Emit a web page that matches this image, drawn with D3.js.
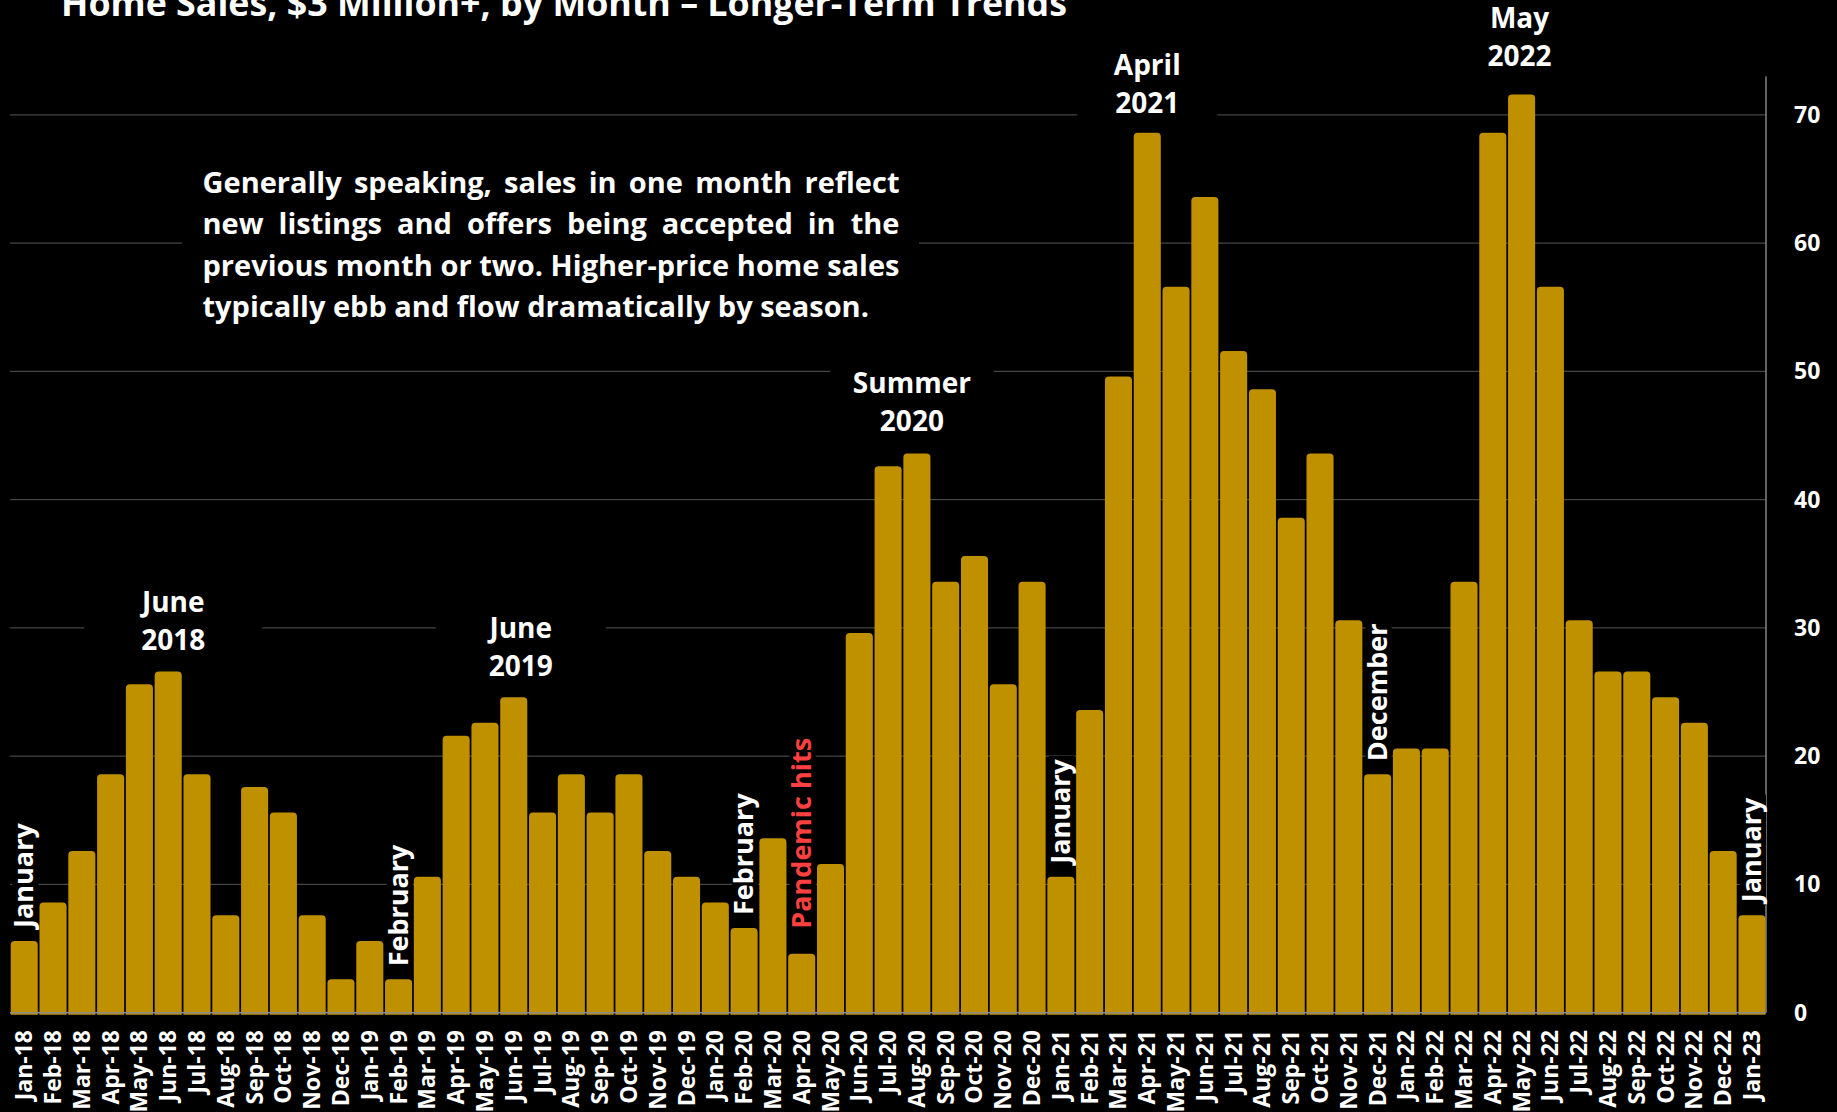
<!DOCTYPE html>
<meta charset="utf-8">
<head>
	<title>Home Sales, $3 Million+, by Month</title>
</head>

<style>
body {
	margin: 0;
	background: #000;
}
svg {
	background-color: #000;
	display: block;
}
text {
	font-family: "Open Sans", sans-serif;
	font-weight: 700;
	fill: #fff;
}
</style>

<body>
<svg class="chart" width="1837" height="1112"></svg>

<script src="https://cdnjs.cloudflare.com/ajax/libs/d3/7.8.5/d3.min.js"></script>
<script>

// data
var months = [
	'Jan-18','Feb-18','Mar-18','Apr-18','May-18','Jun-18','Jul-18','Aug-18','Sep-18','Oct-18','Nov-18','Dec-18',
	'Jan-19','Feb-19','Mar-19','Apr-19','May-19','Jun-19','Jul-19','Aug-19','Sep-19','Oct-19','Nov-19','Dec-19',
	'Jan-20','Feb-20','Mar-20','Apr-20','May-20','Jun-20','Jul-20','Aug-20','Sep-20','Oct-20','Nov-20','Dec-20',
	'Jan-21','Feb-21','Mar-21','Apr-21','May-21','Jun-21','Jul-21','Aug-21','Sep-21','Oct-21','Nov-21','Dec-21',
	'Jan-22','Feb-22','Mar-22','Apr-22','May-22','Jun-22','Jul-22','Aug-22','Sep-22','Oct-22','Nov-22','Dec-22',
	'Jan-23'
];

var sales = [
	5.6, 8.6, 12.6, 18.6, 25.6, 26.6, 18.6, 7.6, 17.6, 15.6, 7.6, 2.6,
	5.6, 2.6, 10.6, 21.6, 22.6, 24.6, 15.6, 18.6, 15.6, 18.6, 12.6, 10.6,
	8.6, 6.6, 13.6, 4.6, 11.6, 29.6, 42.6, 43.6, 33.6, 35.6, 25.6, 33.6,
	10.6, 23.6, 49.6, 68.6, 56.6, 63.6, 51.6, 48.6, 38.6, 43.6, 30.6, 18.6,
	20.6, 20.6, 33.6, 68.6, 71.6, 56.6, 30.6, 26.6, 26.6, 24.6, 22.6, 12.6,
	7.6
];

var yTicks = [0, 10, 20, 30, 40, 50, 60, 70];

var titleText = 'Home Sales, $3 Million+, by Month \u2013 Longer-Term Trends';

// two-line notes above peaks
var peakNotes = [
	{month: 'Jun-18', lines: ['June', '2018']},
	{month: 'Jun-19', lines: ['June', '2019']},
	{month: 'Aug-20', lines: ['Summer', '2020']},
	{month: 'Apr-21', lines: ['April', '2021']},
	{month: 'May-22', lines: ['May', '2022']}
];

// vertical notes sitting on bars
var barNotes = [
	{month: 'Jan-18', text: 'January'},
	{month: 'Feb-19', text: 'February'},
	{month: 'Feb-20', text: 'February'},
	{month: 'Apr-20', text: 'Pandemic hits', red: true},
	{month: 'Jan-21', text: 'January'},
	{month: 'Dec-21', text: 'December'},
	{month: 'Jan-23', text: 'January'}
];

var noteLines = [
	'Generally speaking, sales in one month reflect',
	'new listings and offers being accepted in the',
	'previous month or two. Higher-price home sales',
	'typically ebb and flow dramatically by season.'
];

// layout
var svg = d3.select('.chart');
var gold = '#bf9000';
var axisX = 1766;

var x = d3.scaleBand()
	.domain(months)
	.range([10.7, 1765.5])
	.paddingInner(0.06)
	.paddingOuter(0);

var y = d3.scaleLinear()
	.domain([0, 70])
	.range([1012.7, 114.9]);

// gridlines
svg.append('g')
	.selectAll('line')
	.data(yTicks.filter(function(d) { return d > 0; }))
	.enter()
	.append('line')
	.attr('x1', 10)
	.attr('x2', axisX)
	.attr('y1', function(d) { return y(d); })
	.attr('y2', function(d) { return y(d); })
	.attr('stroke', '#454545')
	.attr('stroke-width', 1.2);

// right axis line
svg.append('line')
	.attr('x1', axisX).attr('x2', axisX)
	.attr('y1', y(0)).attr('y2', y(73))
	.attr('stroke', '#858585')
	.attr('stroke-width', 1.5);

// right axis labels
var yAxis = d3.axisRight(y)
	.tickValues(yTicks)
	.tickSize(0)
	.tickPadding(28);

var yG = svg.append('g')
	.attr('transform', 'translate(' + axisX + ',0)')
	.call(yAxis);
yG.select('.domain').remove();
yG.selectAll('text')
	.style('fill', '#fff')
	.style('font-family', '"Open Sans", sans-serif')
	.style('font-weight', 700)
	.style('font-size', '23px');

// black boxes behind the peak notes (they cut the gridlines)
var peakShift = {'Jun-18': 5, 'Jun-19': 7, 'Aug-20': -5, 'Apr-21': 0, 'May-22': -2};
var peakBase = {'Jun-18': 611.7, 'Jun-19': 638, 'Aug-20': 393, 'Apr-21': 75, 'May-22': 28};
var peakBoxW = {'Jun-18': 178, 'Jun-19': 170, 'Aug-20': 163, 'Apr-21': 140, 'May-22': 0};

function peakCx(d) {
	return x(d.month) + x.bandwidth() / 2 + peakShift[d.month];
}

svg.append('g')
	.selectAll('rect')
	.data(peakNotes)
	.enter()
	.append('rect')
	.attr('x', function(d) { return peakCx(d) - peakBoxW[d.month] / 2; })
	.attr('y', function(d) { return peakBase[d.month] - 30; })
	.attr('width', function(d) { return peakBoxW[d.month]; })
	.attr('height', 76)
	.attr('fill', '#000');

// box behind the paragraph
svg.append('rect')
	.attr('x', 182).attr('y', 150)
	.attr('width', 737).attr('height', 190)
	.attr('fill', '#000');

// bars with rounded tops
function barPath(d, i) {
	var bx = x(months[i]);
	var w = x.bandwidth();
	var top = y(d);
	var bottom = y(0) + 2;
	var r = 4;
	return 'M' + bx + ',' + bottom +
		'V' + (top + r) +
		'Q' + bx + ',' + top + ' ' + (bx + r) + ',' + top +
		'H' + (bx + w - r) +
		'Q' + (bx + w) + ',' + top + ' ' + (bx + w) + ',' + (top + r) +
		'V' + bottom + 'Z';
}

svg.append('g')
	.selectAll('path')
	.data(sales)
	.enter()
	.append('path')
	.attr('d', barPath)
	.attr('fill', gold);

// baseline
svg.append('line')
	.attr('x1', 10).attr('x2', axisX)
	.attr('y1', y(0)).attr('y2', y(0))
	.attr('stroke', '#8a8a8a')
	.attr('stroke-width', 1.6);

// x labels
svg.append('g')
	.selectAll('text')
	.data(months)
	.enter()
	.append('text')
	.attr('transform', function(d) {
		return 'translate(' + (x(d) + x.bandwidth() / 2 + 8) + ',1030) rotate(-90)';
	})
	.attr('text-anchor', 'end')
	.style('font-size', '23px')
	.text(function(d) { return d; });

// vertical notes on bars
var barGap = {'Apr-20': 25};
var noteG = svg.append('g');
barNotes.forEach(function(d) {
	var i = months.indexOf(d.month);
	var cx = x(d.month) + x.bandwidth() / 2;
	var start = y(sales[i]) - (barGap[d.month] || 13);
	var t = noteG.append('text')
		.attr('transform', 'translate(' + (cx + 9) + ',' + start + ') rotate(-90)')
		.style('font-size', '27px')
		.style('fill', d.red ? '#ff4040' : '#fff')
		.text(d.text);
	var len = t.node().getComputedTextLength();
	noteG.insert('rect', 'text')
		.attr('x', cx - 12)
		.attr('y', start - len - 3)
		.attr('width', 26)
		.attr('height', len + 6)
		.attr('fill', '#000');
});

// peak notes text
svg.append('g')
	.selectAll('text')
	.data(peakNotes)
	.enter()
	.append('text')
	.attr('text-anchor', 'middle')
	.style('font-size', '28px')
	.each(function(d) {
		var t = d3.select(this);
		d.lines.forEach(function(line, j) {
			t.append('tspan')
				.attr('x', peakCx(d))
				.attr('y', peakBase[d.month] + j * 37.8)
				.text(line);
		});
	});

// paragraph, justified
var noteX = 202.5, noteW = 697;
noteLines.forEach(function(line, i) {
	var t = svg.append('text')
		.attr('y', 193 + i * 41.3)
		.style('font-size', '29px');
	if (i === noteLines.length - 1) {
		t.attr('x', noteX).text(line);
		return;
	}
	var words = line.split(' ');
	var spans = words.map(function(w) { return t.append('tspan').text(w); });
	var widths = spans.map(function(s) { return s.node().getComputedTextLength(); });
	var gap = (noteW - d3.sum(widths)) / (words.length - 1);
	var cur = noteX;
	spans.forEach(function(s, j) {
		s.attr('x', cur);
		cur += widths[j] + gap;
	});
});

// title, cut by the top edge
svg.append('text')
	.attr('x', 61)
	.attr('y', 16)
	.attr('textLength', 1006)
	.attr('lengthAdjust', 'spacingAndGlyphs')
	.style('font-size', '36px')
	.text(titleText);

</script>
</body>
</html>
